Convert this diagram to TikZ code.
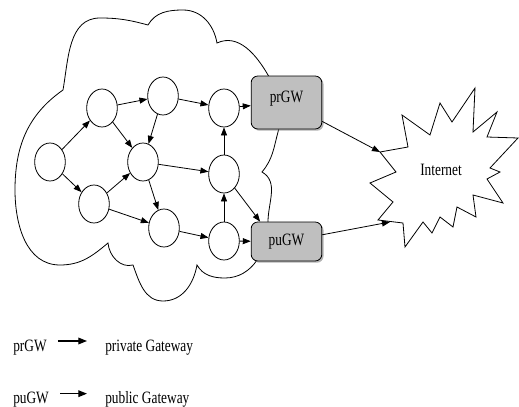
\documentclass[tikz,border=0pt]{standalone}
\usepackage{fontspec}
\setmainfont{Liberation Serif}[FakeStretch=0.77]
\usetikzlibrary{arrows.meta,shapes.geometric,shadows}

\tikzset{
  router/.style={draw,ellipse,line width=.6pt,minimum width=23pt,minimum height=28.5pt,inner sep=0pt},
  gateway/.style={draw,rounded corners=5pt,fill=black!25,line width=.6pt,minimum width=53pt,
    drop shadow={shadow xshift=1.3pt,shadow yshift=-1.3pt,opacity=.6}},
  link/.style={draw,line width=.6pt,-{Triangle[length=6pt,width=4.5pt]}},
  legendtext/.style={anchor=base west,inner sep=0pt},
  legendarrow/.style={draw,line width=.9pt,-{Triangle[length=6.5pt,width=5pt]}},
  every node/.append style={font=\fontsize{13}{15}\selectfont}
}

\begin{document}
\begin{tikzpicture}[x=0.75pt,y=0.75pt]
  \useasboundingbox (0,0) rectangle (519,-407);

  % Cloud round the routers (drawn first, the gateways cover it).
  \draw[line width=.6pt]
    (63,-90) to[out=80,in=180] (100,-18) to[out=0,in=165] (148,-25)
    to[out=60,in=180] (183,-10) to[out=0,in=100] (217,-43)
    to[out=25,in=120] (268,-75) to[out=-60,in=75] (278,-132)
    to[out=-105,in=50] (262,-172)
    to[out=-30,in=90] (268,-222) to[out=-90,in=0] (225,-278) to[out=180,in=-60] (197,-265)
    to[out=-100,in=0] (163,-301) to[out=180,in=-70] (133,-265)
    to[out=195,in=-85] (108,-243)
    to[out=-140,in=0] (60,-265) to[out=180,in=-90] (15,-190) to[out=90,in=215] (63,-90) -- cycle;

  % Routers.
  \node[router] (na) at (50,-162) {};
  \node[router] (nb) at (102,-108) {};
  \node[router] (nc) at (94,-204) {};
  \node[router] (nd) at (143,-162) {};
  \node[router] (ne) at (163,-96) {};
  \node[router] (nf) at (164,-228) {};
  \node[router] (ng) at (224,-108) {};
  \node[router] (nh) at (224,-174) {};
  \node[router] (ni) at (224,-241) {};

  % Gateways.
  \node[gateway,minimum height=39.75pt,text height=9pt,text depth=9.5pt] (prgw) at (286.5,-102.5) {prGW};
  \node[gateway,minimum height=29.25pt] (pugw) at (286.5,-241.5) {puGW};

  % Internet burst.
  \draw[line width=.6pt]
    (380,-152) -- (408,-147) -- (402,-115) -- (430,-135) -- (440,-103) -- (452,-122)
    -- (475,-88) -- (473,-132) -- (497,-112) -- (487,-137) -- (518,-138) -- (490,-168)
    -- (500,-172) -- (487,-179) -- (503,-203) -- (473,-195) -- (476,-217) -- (457,-207)
    -- (453,-227) -- (440,-217) -- (432,-233) -- (423,-222) -- (405,-247) -- (403,-223)
    -- (378,-220) -- (393,-202) -- (370,-183) -- (396,-172) -- cycle;
  \node (inet) at (441,-170) {Internet};
  \coordinate (inetw) at (380,-152);
  \coordinate (inets) at (390,-222);

  % Links inside the cloud.
  \draw[link] (na) -- (nb);
  \draw[link] (na) -- (nc);
  \draw[link] (nb) -- (ne);
  \draw[link] (nb) -- (nd);
  \draw[link] (ne) -- (nd);
  \draw[link] (ne) -- (ng);
  \draw[link] (nc) -- (nd);
  \draw[link] (nc) -- (nf);
  \draw[link] (nd) -- (nh);
  \draw[link] (nd) -- (nf);
  \draw[link] (nf) -- (ni);
  \draw[link] (ni) -- (nh);
  \draw[link] (nh) -- (ng);
  \draw[link] (ng) -- (prgw);
  \draw[link] (ni) -- (pugw);
  \draw[link] (nh) -- ([xshift=7pt]pugw.north west);

  % Gateways to the Internet.
  \draw[link] (prgw) -- (inetw);
  \draw[link] (pugw) -- (inets);

  % Legend.
  \node[legendtext] (lpr) at (13,-351) {prGW};
  \node[legendtext] (dpr) at (105,-351) {private Gateway};
  \node[legendtext] (lpu) at (13,-403) {puGW};
  \node[legendtext] (dpu) at (105,-403) {public Gateway};
  \draw[legendarrow] ([xshift=8.25pt,yshift=7.5pt]lpr.base east) -- ([xshift=-13.5pt,yshift=7.5pt]dpr.base west);
  \draw[legendarrow] ([xshift=8.25pt,yshift=7pt]lpu.base east) -- ([xshift=-13.5pt,yshift=7pt]dpu.base west);
\end{tikzpicture}
\end{document}
